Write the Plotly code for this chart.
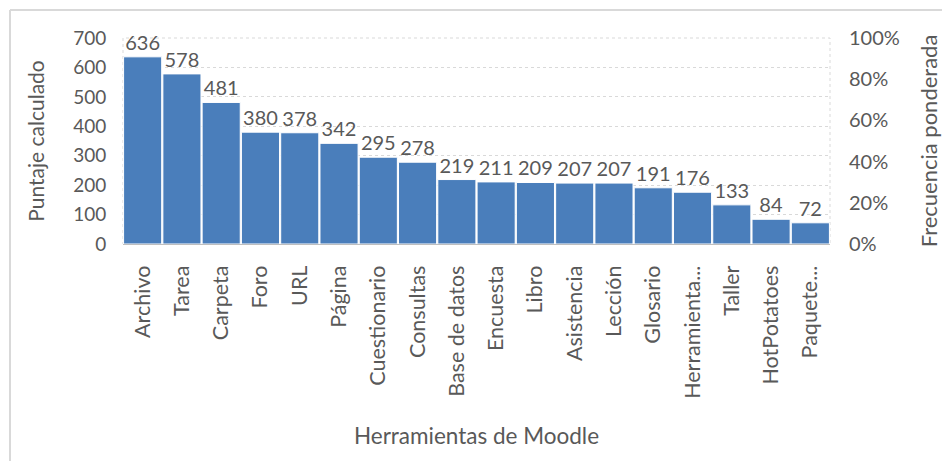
import plotly.graph_objects as go

categories = ["Archivo", "Tarea", "Carpeta", "Foro", "URL", "Página", "Cuestionario",
              "Consultas", "Base de datos", "Encuesta", "Libro", "Asistencia", "Lección",
              "Glosario", "Herramienta...", "Taller", "HotPotatoes", "Paquete..."]
scores = [636, 578, 481, 380, 378, 342, 295, 278, 219, 211, 209, 207, 207, 191, 176, 133, 84, 72]
left_ticks = [0, 100, 200, 300, 400, 500, 600, 700]
right_ticks = [0, 0.2, 0.4, 0.6, 0.8, 1.0]

FONT = "Lato"
GRAY = "#595959"

fig = go.Figure()
fig.add_trace(go.Bar(
    x=categories, y=scores,
    marker=dict(color="#4a7ebb", line=dict(color="white", width=1)),
    text=[str(v) for v in scores], textposition="outside",
    textfont=dict(family=FONT, size=20, color=GRAY),
    cliponaxis=False, showlegend=False,
))
fig.add_trace(go.Scatter(
    x=categories, y=[0] * len(categories), yaxis="y2",
    mode="markers", marker=dict(opacity=0, size=1), hoverinfo="skip", showlegend=False,
))

# page has an 8px body margin; figure coords are page coords minus 8
W, H = 942, 453
L, R, T, B = 115, 120, 30, 217
pw, ph = W - L - R, H - T - B

fig.update_layout(
    width=W, height=H,
    margin=dict(l=L, r=R, t=T, b=B, autoexpand=False),
    paper_bgcolor="white", plot_bgcolor="white",
    bargap=0.03,
    font=dict(family=FONT, color=GRAY),
    xaxis=dict(
        type="category", tickangle=-90, range=[-0.5, len(categories) - 0.5],
        tickfont=dict(family=FONT, size=21.5, color=GRAY),
        showline=True, linecolor="#bfbfbf", linewidth=1,
        ticks="outside", ticklen=12, tickcolor="rgba(0,0,0,0)",
        title=dict(text="Herramientas de Moodle", font=dict(family=FONT, size=22.5, color=GRAY), standoff=30),
        showgrid=False,
    ),
    yaxis=dict(
        range=[0, 700], tickvals=left_ticks,
        tickfont=dict(family=FONT, size=19, color=GRAY),
        showgrid=True, gridcolor="#d9d9d9", griddash="dot", gridwidth=1,
        zeroline=False,
        ticks="outside", ticklen=12, tickcolor="rgba(0,0,0,0)",
        title=dict(text="Puntaje calculado", font=dict(family=FONT, size=21, color=GRAY), standoff=22),
    ),
    yaxis2=dict(
        overlaying="y", side="right", range=[0, 1], tickvals=right_ticks,
        tickformat=".0%",
        tickfont=dict(family=FONT, size=20, color=GRAY),
        showgrid=False, zeroline=False,
        ticks="outside", ticklen=14, tickcolor="rgba(0,0,0,0)",
        title=dict(text="Frecuencia ponderada", font=dict(family=FONT, size=22, color=GRAY), standoff=22),
    ),
)

# plot-area border (dotted, light gray)
fig.add_shape(type="rect", xref="paper", yref="paper", x0=0, x1=1, y0=0, y1=1,
              line=dict(color="#d9d9d9", width=1, dash="dot"), layer="below")
# chart frame: top and left edges
fx = (2 - L) / pw
fy_top = 1 + (T - 2) / ph
fy_bot = -(B + 5) / ph
fx_right = 1 + (R + 5) / pw
fig.add_shape(type="line", xref="paper", yref="paper", x0=fx, x1=fx, y0=fy_bot, y1=fy_top,
              line=dict(color="#d9d9d9", width=2))
fig.add_shape(type="line", xref="paper", yref="paper", x0=fx, x1=fx_right, y0=fy_top, y1=fy_top,
              line=dict(color="#d9d9d9", width=2))

fig.write_html("out.html")
